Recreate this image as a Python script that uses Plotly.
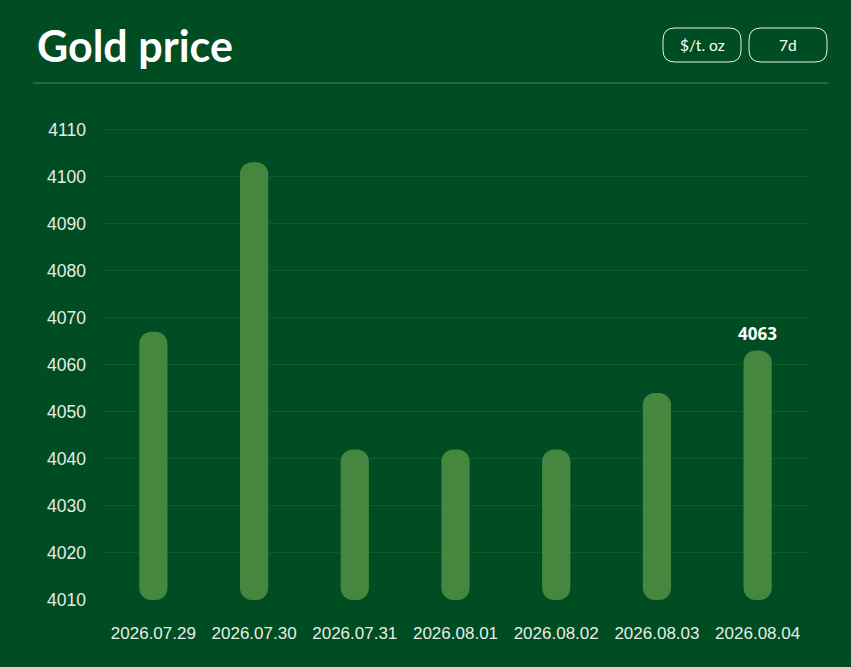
import plotly.graph_objects as go

# data
dates = ["2026.07.29", "2026.07.30", "2026.07.31", "2026.08.01",
         "2026.08.02", "2026.08.03", "2026.08.04"]
prices = [4067, 4103, 4042, 4042, 4042, 4054, 4063]
y_ticks = [4010, 4020, 4030, 4040, 4050, 4060, 4070, 4080, 4090, 4100, 4110]
unit_label = "$/t. oz"
period_label = "7d"

BG = "#004d23"
BAR = "#45873f"
GRID = "#0d5a2a"
TXT = "#e6ede6"

W, H = 851, 667
L, R, T, B = 103, 43, 120, 67
base = 4010

fig = go.Figure()

fig.add_trace(go.Bar(
    x=dates, y=[p - base for p in prices], base=base,
    marker_color=BAR, marker_line_width=0, width=0.28,
    hoverinfo="skip", showlegend=False,
))

# value label on the last bar
fig.add_annotation(
    x=dates[-1], y=prices[-1], text="<b>%d</b>" % prices[-1],
    showarrow=False, yanchor="bottom", yshift=4,
    font=dict(family="Open Sans", size=17, color="white"),
)


def px(x):
    return (x - L) / (W - L - R)


def py(y):
    return (H - B - y) / (H - T - B)


def rounded_rect(x0, y0, x1, y1, r):
    return dict(
        type="path", xref="paper", yref="paper",
        path=(f"M {px(x0 + r)},{py(y0)} L {px(x1 - r)},{py(y0)} "
              f"Q {px(x1)},{py(y0)} {px(x1)},{py(y0 + r)} "
              f"L {px(x1)},{py(y1 - r)} "
              f"Q {px(x1)},{py(y1)} {px(x1 - r)},{py(y1)} "
              f"L {px(x0 + r)},{py(y1)} "
              f"Q {px(x0)},{py(y1)} {px(x0)},{py(y1 - r)} "
              f"L {px(x0)},{py(y0 + r)} "
              f"Q {px(x0)},{py(y0)} {px(x0 + r)},{py(y0)} Z"),
        line=dict(color="#e8efe8", width=1), fillcolor="rgba(0,0,0,0)",
    )


shapes = [
    dict(type="line", xref="paper", yref="paper",
         x0=px(33), x1=px(828), y0=py(83), y1=py(83),
         line=dict(color="#4a8c45", width=1)),
    rounded_rect(663, 28, 741, 62, 12),
    rounded_rect(749, 28, 827, 62, 12),
]

annotations = [
    dict(xref="paper", yref="paper", x=px(35), y=py(45), xanchor="left",
         yanchor="middle", text="<b>Gold price</b>", showarrow=False,
         font=dict(family="Lato", size=43, color="white")),
    dict(xref="paper", yref="paper", x=px(702), y=py(45), xanchor="center",
         yanchor="middle", text=unit_label, showarrow=False,
         font=dict(family="Lato", size=15.5, color="white")),
    dict(xref="paper", yref="paper", x=px(788), y=py(45), xanchor="center",
         yanchor="middle", text=period_label, showarrow=False,
         font=dict(family="Lato", size=15.5, color="white")),
]

fig.update_layout(
    width=W, height=H,
    margin=dict(l=L, r=R, t=T, b=B),
    paper_bgcolor=BG, plot_bgcolor=BG,
    barcornerradius=12,
    shapes=shapes,
    font=dict(family="Liberation Sans", size=16, color=TXT),
)
for a in annotations:
    fig.add_annotation(**a)

fig.update_xaxes(showgrid=False, showline=False, zeroline=False,
                 ticks="", tickfont=dict(size=17, color=TXT), ticklabelstandoff=21)
fig.update_yaxes(range=[4010, 4112], tickvals=y_ticks, gridcolor=GRID,
                 gridwidth=1, zeroline=False, showline=False, ticks="",
                 tickfont=dict(size=17.5, color=TXT), ticklabelstandoff=16)

fig.write_html("out.html", config={"displayModeBar": False},
               post_script="document.body.style.margin='0';")
